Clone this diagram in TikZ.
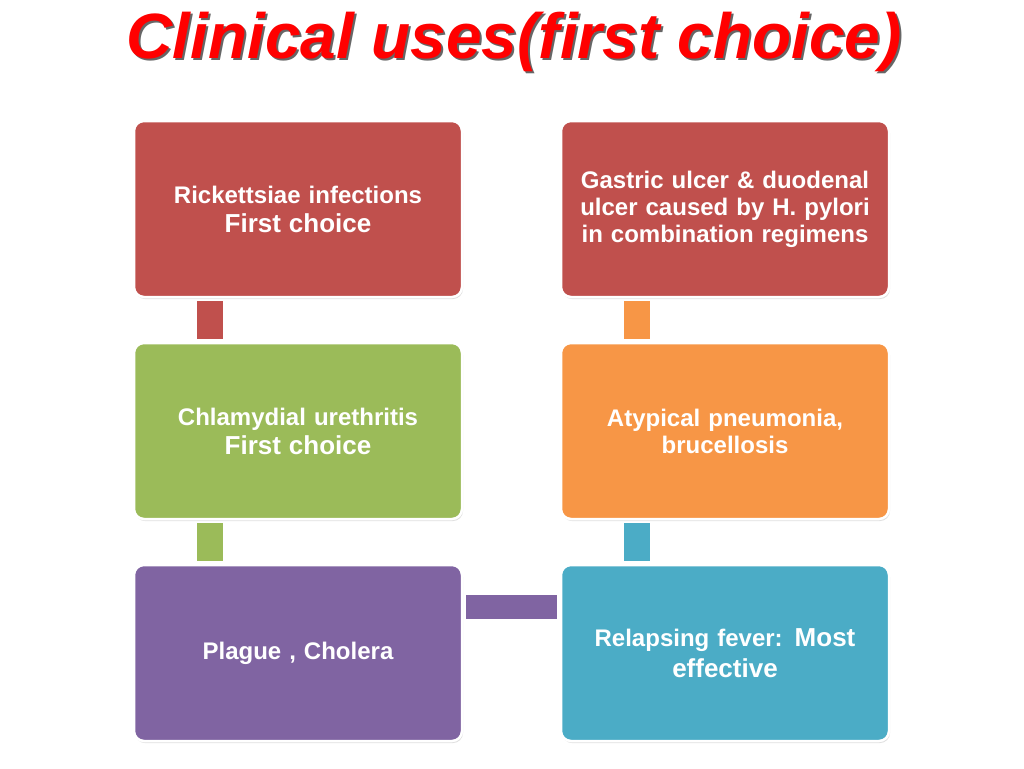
\documentclass[tikz,border=0pt]{standalone}
\usepackage{fontspec}
\setmainfont{Liberation Sans}
\usetikzlibrary{shadows}
\definecolor{cred}{HTML}{C0504D}
\definecolor{cgreen}{HTML}{9BBB59}
\definecolor{corange}{HTML}{F79646}
\definecolor{cblue}{HTML}{4BACC6}
\definecolor{cpurple}{HTML}{8064A2}
\tikzset{
  box/.style={rectangle, rounded corners=10pt, draw=white, line width=2.5pt,
    minimum width=328pt, minimum height=176pt, text=white, align=center,
    font=\fontsize{24}{27}\selectfont\bfseries, text width=315pt,
    drop shadow={shadow xshift=1pt, shadow yshift=-2pt, fill=black!25}},
  big/.style={font=\fontsize{26}{30}\selectfont\bfseries},
  link/.style={line width=26pt}
}
\begin{document}
\begin{tikzpicture}[x=1pt, y=-1pt]
\useasboundingbox (0,0) rectangle (1024,768);
\node[text=black!60, font=\fontsize{64}{70}\selectfont\bfseries\itshape] at (516,44) {Clinical uses(first choice)};
\node[text=red, font=\fontsize{64}{70}\selectfont\bfseries\itshape] (title) at (514,42) {Clinical uses(first choice)};
\node[box, fill=cred] (rick) at (298,209) {Rickettsiae infections\\[2pt] {\fontsize{26}{30}\selectfont First choice}};
\node[box, fill=cred] (gastric) at (725,209) {Gastric ulcer \& duodenal\\ulcer caused by H. pylori\\in combination regimens};
\node[box, fill=cgreen] (chlam) at (298,431) {Chlamydial urethritis\\[2pt] {\fontsize{26}{30}\selectfont First choice}};
\node[box, fill=corange] (atyp) at (725,431) {Atypical pneumonia,\\brucellosis};
\node[box, fill=cpurple] (plague) at (298,653) {Plague , Cholera};
\node[box, fill=cblue] (relapse) at (725,653) {Relapsing fever: {\fontsize{26}{30}\selectfont Most}\\[4pt] {\fontsize{26}{30}\selectfont effective}};
\draw[link, cred] ([xshift=77pt, yshift=-3pt]rick.south west) -- ([xshift=77pt, yshift=3pt]chlam.north west);
\draw[link, cgreen] ([xshift=77pt, yshift=-3pt]chlam.south west) -- ([xshift=77pt, yshift=3pt]plague.north west);
\draw[link, corange] ([xshift=77pt, yshift=-3pt]gastric.south west) -- ([xshift=77pt, yshift=3pt]atyp.north west);
\draw[link, cblue] ([xshift=77pt, yshift=-3pt]atyp.south west) -- ([xshift=77pt, yshift=3pt]relapse.north west);
\draw[line width=24pt, cpurple] ([xshift=3pt, yshift=-43pt]plague.north east) -- ([xshift=-3pt, yshift=-43pt]relapse.north west);
\end{tikzpicture}
\end{document}
